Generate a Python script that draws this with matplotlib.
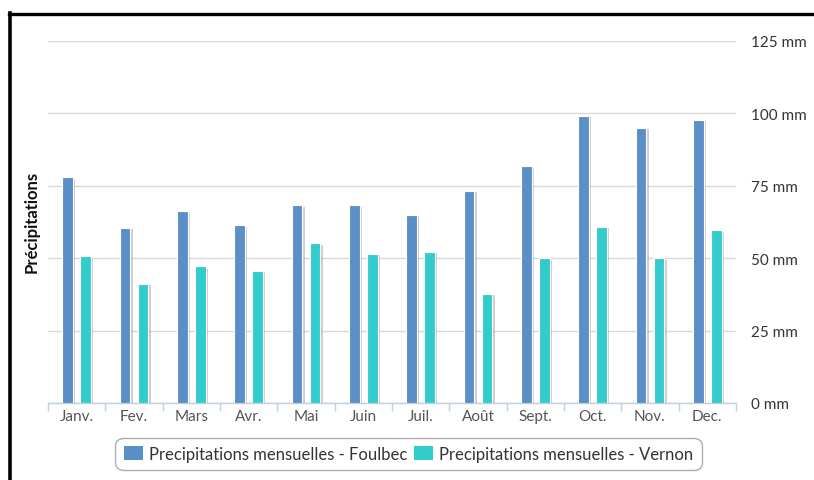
import matplotlib

matplotlib.use("Agg")
import matplotlib.pyplot as plt
import matplotlib.patheffects as pe
from matplotlib.lines import Line2D
from matplotlib.patches import Patch

months = ["Janv.", "Fev.", "Mars", "Avr.", "Mai", "Juin",
          "Juil.", "Août", "Sept.", "Oct.", "Nov.", "Dec."]
foulbec = [78.0, 60.6, 66.2, 61.4, 68.3, 68.3, 64.9, 73.2, 81.7, 99.2, 95.1, 97.7]
vernon = [50.7, 41.2, 47.2, 45.7, 55.2, 51.5, 52.3, 37.8, 50.0, 60.9, 50.0, 59.6]
y_ticks = [0, 25, 50, 75, 100, 125]
series_names = ["Precipitations mensuelles - Foulbec", "Precipitations mensuelles - Vernon"]

BLUE = "#5B8FC7"
TEAL = "#33CCCC"
AXIS = "#C0D0E0"
GRID = "#D8D8D8"

plt.rcParams["font.family"] = ["Lato", "DejaVu Sans"]

W, H = 814, 481
fig = plt.figure(figsize=(W / 100, H / 100), dpi=100)
ax = fig.add_axes([48 / W, (H - 404) / H, (736 - 48) / W, (404 - 42) / H])

shadow = [pe.SimplePatchShadow(offset=(1.5, -1), shadow_rgbFace="#888888", alpha=0.4), pe.Normal()]
x = list(range(len(months)))
offset, width = 0.157, 0.19
ax.bar([i - offset for i in x], foulbec, width=width, color=BLUE,
       edgecolor="white", linewidth=0.8, path_effects=shadow, zorder=3)
ax.bar([i + offset for i in x], vernon, width=width, color=TEAL,
       edgecolor="white", linewidth=0.8, path_effects=shadow, zorder=3)

ax.set_xlim(-0.5, len(months) - 0.5)
ax.set_ylim(0, 125)
ax.set_yticks(y_ticks, [f"{v} mm" for v in y_ticks])
ax.yaxis.tick_right()
ax.tick_params(axis="y", length=0, pad=11, labelsize=11, labelcolor="#333333")
ax.grid(axis="y", color=GRID, linewidth=1, zorder=0)
ax.set_axisbelow(True)

ax.set_xticks(x, months)
ax.set_xticks([i + 0.5 for i in range(-1, len(months))], minor=True)
ax.tick_params(axis="x", which="major", length=0, pad=4, labelsize=11, labelcolor="#555555")
ax.tick_params(axis="x", which="minor", length=6, width=1, color=AXIS)

for side in ("top", "right", "left"):
    ax.spines[side].set_visible(False)
ax.spines["bottom"].set_color(AXIS)
ax.spines["bottom"].set_linewidth(1)

fig.text(32 / W, 1 - 222 / H, "Précipitations", rotation=90, ha="center", va="center",
         fontsize=12, fontweight="bold", color="#111111")

handles = [Patch(facecolor=BLUE, edgecolor="none"), Patch(facecolor=TEAL, edgecolor="none")]
leg = fig.legend(handles, series_names, loc="center", bbox_to_anchor=(408.5 / W, 1 - 455 / H),
                 ncol=2, fontsize=12, frameon=True, fancybox=True, handlelength=1.15,
                 handleheight=0.9, handletextpad=0.4, columnspacing=0.35, borderpad=0.5,
                 borderaxespad=0, labelcolor="#333333")
leg.get_frame().set_edgecolor("#999999")
leg.get_frame().set_linewidth(1)
leg.get_frame().set_boxstyle("round", pad=0, rounding_size=0.5)

# heavy frame on top and left edges
fig.add_artist(Line2D([9 / W, 1], [1 - 15 / H, 1 - 15 / H], color="black", linewidth=2.4))
fig.add_artist(Line2D([10 / W, 10 / W], [0, 1 - 14 / H], color="black", linewidth=2.6))

fig.savefig("out.png", dpi=100, facecolor="white")
